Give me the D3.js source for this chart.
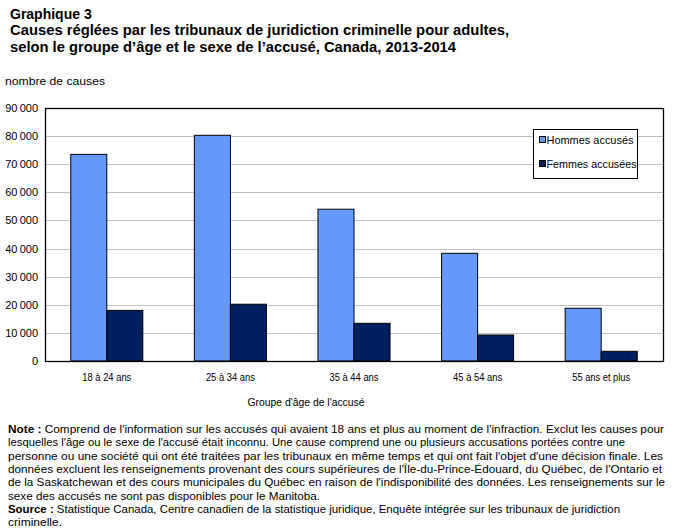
<!DOCTYPE html>
<html>
<head>
<meta charset="utf-8">
<script src="https://cdn.jsdelivr.net/npm/d3@7"></script>
<style>
  body { margin: 0; background: #fff; }
  svg { display: block; font-family: "Liberation Sans", Arial, sans-serif; }
</style>
</head>
<body>
<div id="viz"></div>
<script>
/* Graphique 3 - causes reglees par groupe d'age et sexe */

var categories = ['18 à 24 ans', '25 à 34 ans', '35 à 44 ans', '45 à 54 ans', '55 ans et plus'];
var series = ['Hommes accusés', 'Femmes accusées'];
var hommes = [73500, 80300, 54000, 38300, 18750];
var femmes = [18000, 20200, 13400, 9250, 3450];
var yTicks = [0, 10000, 20000, 30000, 40000, 50000, 60000, 70000, 80000, 90000];
var colors = ['#6699FF', '#002060'];

var titleLines = [
  'Graphique 3',
  'Causes réglées par les tribunaux de juridiction criminelle pour adultes,',
  'selon le groupe d\u2019âge et le sexe de l\u2019accusé, Canada, 2013-2014'
];
var noteLines = [
  ['Note :', ' Comprend de l\'information sur les accusés qui avaient 18 ans et plus au moment de l\'infraction. Exclut les causes pour', 664],
  ['', 'lesquelles l\'âge ou le sexe de l\'accusé était inconnu. Une cause comprend une ou plusieurs accusations portées contre une', 625],
  ['', 'personne ou une société qui ont été traitées par les tribunaux en même temps et qui ont fait l\'objet d\'une décision finale. Les', 663],
  ['', 'données excluent les renseignements provenant des cours supérieures de l\'Île-du-Prince-Édouard, du Québec, de l\'Ontario et', 662],
  ['', 'de la Saskatchewan et des cours municipales du Québec en raison de l\'indisponibilité des données. Les renseignements sur le', 665],
  ['', 'sexe des accusés ne sont pas disponibles pour le Manitoba.', 320],
  ['Source :', ' Statistique Canada, Centre canadien de la statistique juridique, Enquête intégrée sur les tribunaux de juridiction', 620],
  ['', 'criminelle.', 62]
];

var width = 678, height = 530;
var margin = { top: 108, right: 15, bottom: 169, left: 45 };
var plotW = width - margin.left - margin.right,
    plotH = height - margin.top - margin.bottom;

var svg = d3.select('#viz').append('svg')
    .attr('width', width)
    .attr('height', height);

// titre
svg.selectAll('text.title').data(titleLines)
  .enter().append('text')
    .attr('class', 'title')
    .attr('x', 10)
    .attr('y', function(d, i) { return 19 + i * 16.3; })
    .attr('font-size', '14px')
    .attr('font-weight', 'bold')
    .attr('fill', '#000')
    .attr('textLength', function(d, i) { return i === 0 ? null : (i === 1 ? 499 : 446); })
    .attr('lengthAdjust', 'spacingAndGlyphs')
    .text(function(d) { return d; });

svg.append('text')
    .attr('x', 5).attr('y', 85)
    .attr('font-size', '11px')
    .attr('textLength', 100)
    .attr('lengthAdjust', 'spacingAndGlyphs')
    .text('nombre de causes');

var g = svg.append('g')
    .attr('transform', 'translate(' + margin.left + ',' + margin.top + ')');

var yScale = d3.scaleLinear().domain([0, 90000]).range([plotH, 0]);
var xScale = d3.scaleBand().domain(categories).range([0, plotW])
    .paddingInner(0.417).paddingOuter(0.2085);
var xSub = d3.scaleBand().domain(series).range([0, xScale.bandwidth()]);

// grille
g.selectAll('line.grid').data(yTicks.slice(1, -1))
  .enter().append('line')
    .attr('x1', 0).attr('x2', plotW)
    .attr('y1', function(d) { return Math.round(yScale(d)) + 0.5; })
    .attr('y2', function(d) { return Math.round(yScale(d)) + 0.5; })
    .attr('stroke', '#C0C0C0')
    .attr('stroke-width', 1);

// barres
var groups = g.selectAll('g.cat').data(categories)
  .enter().append('g')
    .attr('transform', function(d) { return 'translate(' + xScale(d) + ',0)'; });

groups.selectAll('rect')
  .data(function(d, i) { return [hommes[i], femmes[i]]; })
  .enter().append('rect')
    .attr('x', function(d, j) { return xSub(series[j]); })
    .attr('width', xSub.bandwidth())
    .attr('y', function(d) { return yScale(d); })
    .attr('height', function(d) { return plotH - yScale(d); })
    .attr('fill', function(d, j) { return colors[j]; })
    .attr('stroke', '#000')
    .attr('stroke-width', 1);

// cadre
g.append('rect')
    .attr('x', 0.5).attr('y', 0.5)
    .attr('width', plotW).attr('height', plotH)
    .attr('fill', 'none')
    .attr('stroke', '#000')
    .attr('stroke-width', 1.3);

// axes
var fmt = function(d) { return d3.format(',')(d).replace(/,/g, '\u2009'); };
var yAxis = d3.axisLeft(yScale).tickValues(yTicks).tickSize(0).tickPadding(7).tickFormat(fmt);
var yGuide = g.append('g').call(yAxis);
yGuide.select('.domain').remove();
yGuide.selectAll('text').attr('font-size', '11px').attr('font-family', '"Liberation Sans", Arial, sans-serif')
    .attr('fill', '#000');

var xAxis = d3.axisBottom(xScale).tickSize(0).tickPadding(12);
var xGuide = g.append('g').attr('transform', 'translate(0,' + plotH + ')').call(xAxis);
xGuide.select('.domain').remove();
xGuide.selectAll('text').attr('font-size', '11px').attr('font-family', '"Liberation Sans", Arial, sans-serif')
    .attr('fill', '#000')
    .attr('textLength', function(d) { return d === '55 ans et plus' ? 58 : 49; })
    .attr('lengthAdjust', 'spacingAndGlyphs');

svg.append('text')
    .attr('x', 306).attr('y', 406)
    .attr('text-anchor', 'middle')
    .attr('font-size', '11px')
    .attr('textLength', 117)
    .attr('lengthAdjust', 'spacingAndGlyphs')
    .text('Groupe d\'âge de l\'accusé');

// legende
var legend = svg.append('g').attr('transform', 'translate(533.5,129.5)');
legend.append('rect')
    .attr('width', 104).attr('height', 49)
    .attr('fill', '#fff').attr('stroke', '#000');
var items = legend.selectAll('g.item').data(series)
  .enter().append('g')
    .attr('transform', function(d, i) { return 'translate(6,' + (11 + i * 24) + ')'; });
items.append('rect')
    .attr('x', 0).attr('y', -4).attr('width', 6).attr('height', 6)
    .attr('fill', function(d, i) { return colors[i]; })
    .attr('stroke', '#000');
items.append('text')
    .attr('x', 7).attr('y', 3.5)
    .attr('font-size', '11px')
    .attr('textLength', function(d, i) { return i === 0 ? 87 : 90; })
    .attr('lengthAdjust', 'spacingAndGlyphs')
    .text(function(d) { return d; });

// note et source
var notes = svg.selectAll('text.note').data(noteLines)
  .enter().append('text')
    .attr('class', 'note')
    .attr('x', 8)
    .attr('y', function(d, i) { return 433 + i * 13.3; })
    .attr('font-size', '11px')
    .attr('textLength', function(d) { return d[2] - 8; })
    .attr('lengthAdjust', 'spacingAndGlyphs');
notes.append('tspan').attr('font-weight', 'bold').text(function(d) { return d[0]; });
notes.append('tspan').text(function(d) { return d[1]; });
</script>
</body>
</html>
